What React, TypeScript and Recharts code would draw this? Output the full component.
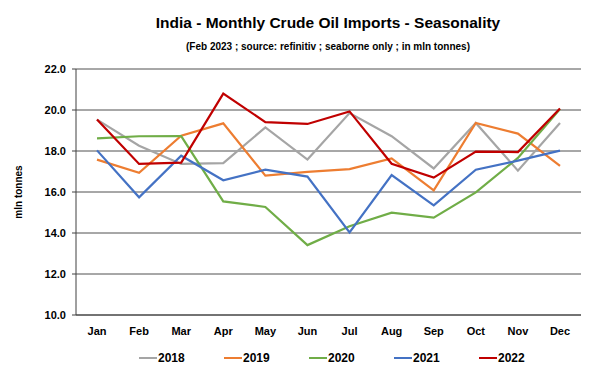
import React from "react";
import { LineChart, Line, XAxis, YAxis, CartesianGrid } from "recharts";

const months = ["Jan", "Feb", "Mar", "Apr", "May", "Jun", "Jul", "Aug", "Sep", "Oct", "Nov", "Dec"];
const y2018 = [19.53, 18.26, 17.37, 17.41, 19.15, 17.58, 19.85, 18.72, 17.15, 19.37, 17.04, 19.37];
const y2019 = [17.58, 16.94, 18.75, 19.35, 16.8, 16.98, 17.12, 17.64, 16.08, 19.37, 18.85, 17.28];
const y2020 = [18.62, 18.72, 18.73, 15.54, 15.27, 13.41, 14.33, 14.99, 14.75, 15.98, 17.66, 20.05];
const y2021 = [18.03, 15.74, 17.77, 16.57, 17.09, 16.75, 14.03, 16.83, 15.35, 17.09, 17.53, 18.02];
const y2022 = [19.54, 17.37, 17.43, 20.8, 19.41, 19.32, 19.93, 17.38, 16.7, 17.97, 17.95, 20.07];
const yTicks = [10, 12, 14, 16, 18, 20, 22];

const series = [
  { key: "2018", values: y2018, color: "#A5A5A5" },
  { key: "2019", values: y2019, color: "#ED7D31" },
  { key: "2020", values: y2020, color: "#70AD47" },
  { key: "2021", values: y2021, color: "#4472C4" },
  { key: "2022", values: y2022, color: "#C00000" },
];

const data = months.map((m, i) => {
  const row: Record<string, string | number> = { month: m };
  series.forEach((s) => (row[s.key] = s.values[i]));
  return row;
});

const font = "'Liberation Sans', Arial, sans-serif";

export default function App() {
  return (
    <div style={{ position: "absolute", left: 0, top: 0, width: 600, height: 377, background: "#fff", fontFamily: font }}>
      <div style={{ position: "absolute", left: 0, width: 656, top: 14, textAlign: "center", fontSize: 15.5, fontWeight: "bold", color: "#000" }}>
        India - Monthly Crude Oil Imports - Seasonality
      </div>
      <div style={{ position: "absolute", left: 0, width: 656, top: 41, textAlign: "center", fontSize: 10, fontWeight: "bold", color: "#000" }}>
        (Feb 2023 ; source: refinitiv ; seaborne only ; in mln tonnes)
      </div>
      <div
        style={{
          position: "absolute",
          left: 18,
          top: 192,
          transform: "translate(-50%, -50%) rotate(-90deg)",
          fontSize: 10,
          fontWeight: "bold",
          whiteSpace: "nowrap",
        }}
      >
        mln tonnes
      </div>
      <div style={{ position: "absolute", left: 0, top: 0 }}>
        <LineChart width={600} height={377} data={data} margin={{ top: 69, right: 19, bottom: 32, left: 0 }}>
          <CartesianGrid vertical={false} stroke="#505050" strokeWidth={1} />
          <XAxis
            dataKey="month"
            axisLine={{ stroke: "#404040" }}
            tickLine={false}
            padding={{ left: 21, right: 21 }}
            height={30}
            tick={{ fill: "#000", fontSize: 11, fontWeight: "bold", fontFamily: font }}
            tickMargin={6}
            interval={0}
          />
          <YAxis
            domain={[10, 22]}
            ticks={yTicks}
            tickFormatter={(v: number) => v.toFixed(1)}
            width={76}
            axisLine={{ stroke: "#404040" }}
            tickLine={{ stroke: "#404040" }}
            tickSize={4}
            tickMargin={6}
            tick={{ fill: "#000", fontSize: 11, fontWeight: "bold", fontFamily: font }}
            interval={0}
          />
          <YAxis yAxisId="r" orientation="right" width={0} tick={false} tickLine={false} axisLine={{ stroke: "#A0A0A0" }} domain={[10, 22]} />
          {series.map((s) => (
            <Line
              key={s.key}
              dataKey={s.key}
              stroke={s.color}
              strokeWidth={2.2}
              dot={false}
              activeDot={false}
              isAnimationActive={false}
            />
          ))}
        </LineChart>
      </div>
      {series.map((s, i) => (
        <div key={s.key} style={{ position: "absolute", left: 139 + i * 85, top: 350, display: "flex", alignItems: "center", height: 16 }}>
          <div style={{ width: 18, height: 2, background: s.color }} />
          <span style={{ fontSize: 12, fontWeight: "bold", marginLeft: 1 }}>{s.key}</span>
        </div>
      ))}
    </div>
  );
}
